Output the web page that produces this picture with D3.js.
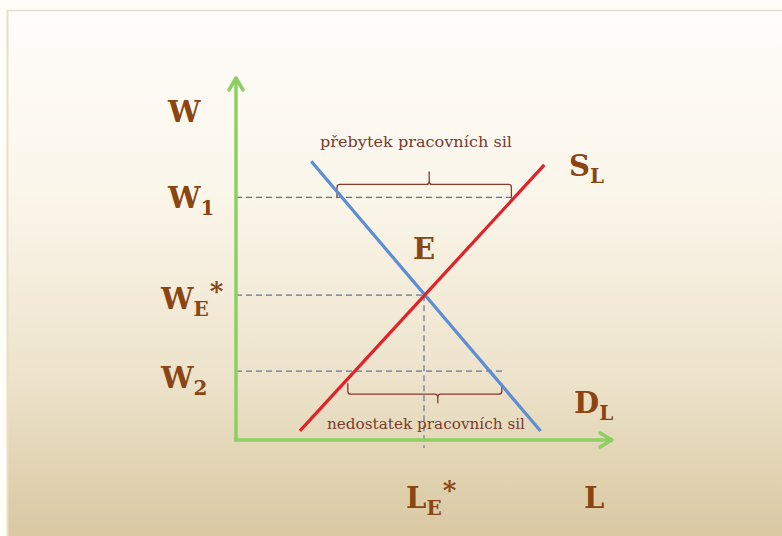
<!DOCTYPE html>
<html>
<head>
<meta charset="utf-8">
<script src="https://cdn.jsdelivr.net/npm/d3@7"></script>
<style>
  html, body { margin: 0; padding: 0; background: #fffdf8; }
  svg { display: block; }
  text { font-family: "DejaVu Serif", "Liberation Serif", serif; }
</style>
</head>
<body>
<svg id="chart" width="782" height="536"></svg>
<script>
// Labour market model: supply S_L, demand D_L, equilibrium E
const supplyLine = [{L: 17, W: 2.5}, {L: 82, W: 76}];
const demandLine = [{L: 20, W: 77}, {L: 81, W: 2.5}];
const wageLevels = [
  {name: "W1", base: "W", sub: "1", W: 67},
  {name: "WE", base: "W", sub: "E", star: true, W: 40},
  {name: "W2", base: "W", sub: "2", W: 19}
];
const equilibrium = {L: 50, W: 40, label: "E"};
const surplusText = "přebytek pracovních sil";
const shortageText = "nedostatek pracovních sil";

const svg = d3.select("#chart");
const W = 782, H = 536;

const x = d3.scaleLinear().domain([0, 100]).range([236, 612]);
const y = d3.scaleLinear().domain([0, 100]).range([440, 78]);

// background panel
const defs = svg.append("defs");
const grad = defs.append("linearGradient").attr("id", "bg").attr("x1", 0).attr("y1", 0).attr("x2", 0).attr("y2", 1);
grad.append("stop").attr("offset", "0%").attr("stop-color", "#fffdfb");
grad.append("stop").attr("offset", "35%").attr("stop-color", "#fbf6ea");
grad.append("stop").attr("offset", "70%").attr("stop-color", "#ede3cb");
grad.append("stop").attr("offset", "100%").attr("stop-color", "#d9c8a1");

svg.append("rect").attr("width", W).attr("height", H).attr("fill", "#fffdf8");
svg.append("rect").attr("x", 7).attr("y", 10).attr("width", W - 7).attr("height", H - 10)
  .attr("fill", "url(#bg)");
svg.append("line").attr("x1", 7).attr("x2", W).attr("y1", 10.5).attr("y2", 10.5)
  .attr("stroke", "#e2ded2").attr("stroke-width", 1.5);
svg.append("line").attr("x1", 7.5).attr("x2", 7.5).attr("y1", 10).attr("y2", H)
  .attr("stroke", "#eadfc8").attr("stroke-width", 2);

// helpers: L where a line reaches wage w
function lAt(line, w) {
  const [a, b] = line;
  return a.L + (w - a.W) * (b.L - a.L) / (b.W - a.W);
}

const dashColor = "#5f7594";
const dash = "6,4";
const w1 = wageLevels[0], wE = wageLevels[1], w2 = wageLevels[2];

// dashed guides
const g = svg.append("g");
g.append("line").attr("x1", x(0)).attr("x2", x(lAt(supplyLine, w1.W)))
  .attr("y1", y(w1.W)).attr("y2", y(w1.W));
g.append("line").attr("x1", x(0)).attr("x2", x(equilibrium.L))
  .attr("y1", y(wE.W)).attr("y2", y(wE.W));
g.append("line").attr("x1", x(0)).attr("x2", x(lAt(demandLine, w2.W)) + 13)
  .attr("y1", y(w2.W)).attr("y2", y(w2.W));
g.append("line").attr("x1", x(equilibrium.L)).attr("x2", x(equilibrium.L))
  .attr("y1", y(wE.W)).attr("y2", y(0) + 8);
g.selectAll("line").attr("stroke", dashColor).attr("stroke-width", 1.2).attr("stroke-dasharray", dash);

// braces
const braceColor = "#8a3a2a";
const tl = x(lAt(demandLine, w1.W)) - 5, tr = x(lAt(supplyLine, w1.W)) - 3;
const ty = y(w1.W) - 13, tyEnd = y(w1.W);
const tm = (tl + tr) / 2 + 5;
svg.append("path")
  .attr("d", `M${tl},${tyEnd} L${tl},${ty + 3} Q${tl},${ty} ${tl + 3},${ty} L${tm - 3},${ty} Q${tm},${ty} ${tm},${ty - 3} L${tm},${ty - 13} M${tm},${ty - 3} Q${tm},${ty} ${tm + 3},${ty} L${tr - 3},${ty} Q${tr},${ty} ${tr},${ty + 3} L${tr},${tyEnd}`)
  .attr("fill", "none").attr("stroke", braceColor).attr("stroke-width", 1.3);

const bl = x(lAt(supplyLine, w2.W)) - 7, br = x(lAt(demandLine, w2.W)) + 12;
const byTop = y(w2.W) + 12, by = y(w2.W) + 23;
const bm = (bl + br) / 2 + 13;
svg.append("path")
  .attr("d", `M${bl},${byTop} L${bl},${by - 3} Q${bl},${by} ${bl + 3},${by} L${bm - 3},${by} Q${bm},${by} ${bm},${by + 3} L${bm},${by + 9} M${bm},${by + 3} Q${bm},${by} ${bm + 3},${by} L${br - 3},${by} Q${br},${by} ${br},${by - 3} L${br},${byTop}`)
  .attr("fill", "none").attr("stroke", braceColor).attr("stroke-width", 1.3);

svg.append("text").attr("x", 416).attr("y", 147).attr("text-anchor", "middle")
  .attr("font-size", 15).attr("textLength", 192).attr("lengthAdjust", "spacingAndGlyphs")
  .attr("fill", "#7a3a30").text(surplusText);
svg.append("text").attr("x", 426).attr("y", 429).attr("text-anchor", "middle")
  .attr("font-size", 15).attr("textLength", 198).attr("lengthAdjust", "spacingAndGlyphs")
  .attr("fill", "#7a3a30").text(shortageText);

// supply & demand
const lineGen = d3.line().x(d => x(d.L)).y(d => y(d.W));
svg.append("path").datum(demandLine).attr("d", lineGen)
  .attr("stroke", "#5b8ed2").attr("stroke-width", 3.2).attr("fill", "none");
svg.append("path").datum(supplyLine).attr("d", lineGen)
  .attr("stroke", "#e0222a").attr("stroke-width", 3.2).attr("fill", "none");

// axes (green arrows)
const axisColor = "#8ccf62";
svg.append("line").attr("x1", x(0)).attr("x2", x(0)).attr("y1", y(0) + 1.5).attr("y2", y(100) + 2)
  .attr("stroke", axisColor).attr("stroke-width", 3.5);
svg.append("path")
  .attr("d", `M${x(0) - 7},${y(100) + 12} L${x(0)},${y(100)} L${x(0) + 7},${y(100) + 12}`)
  .attr("fill", "none").attr("stroke", axisColor).attr("stroke-width", 3.5).attr("stroke-linecap", "round").attr("stroke-linejoin", "round");
svg.append("line").attr("x1", x(0) - 1.5).attr("x2", x(100) - 2).attr("y1", y(0)).attr("y2", y(0))
  .attr("stroke", axisColor).attr("stroke-width", 3.5);
svg.append("path")
  .attr("d", `M${x(100) - 12},${y(0) - 7} L${x(100)},${y(0)} L${x(100) - 12},${y(0) + 7}`)
  .attr("fill", "none").attr("stroke", axisColor).attr("stroke-width", 3.5).attr("stroke-linecap", "round").attr("stroke-linejoin", "round");

// labels
const labelColor = "#8a4513";
function bigLabel(px, py, base, sub, star) {
  const t = svg.append("text").attr("x", px).attr("y", py)
    .attr("font-weight", "bold")
    .attr("font-size", 29).attr("fill", labelColor);
  t.append("tspan").text(base);
  if (sub) t.append("tspan").attr("font-size", 20).attr("dy", 7).text(sub);
  if (star) t.append("tspan").attr("font-size", 26).attr("dy", -16).attr("dx", 1).text("*");
  return t;
}
bigLabel(168, 122, "W");
bigLabel(168, y(w1.W) + 11, w1.base, w1.sub);
bigLabel(161, y(wE.W) + 14, wE.base, wE.sub, true);
bigLabel(161, y(w2.W) + 17, w2.base, w2.sub);
bigLabel(x(equilibrium.L) - 11, 259, equilibrium.label);
bigLabel(569, 176, "S", "L");
bigLabel(574, 413, "D", "L");
bigLabel(x(equilibrium.L) - 18, 508, "L", "E", true);
bigLabel(584, 508, "L");
</script>
</body>
</html>
